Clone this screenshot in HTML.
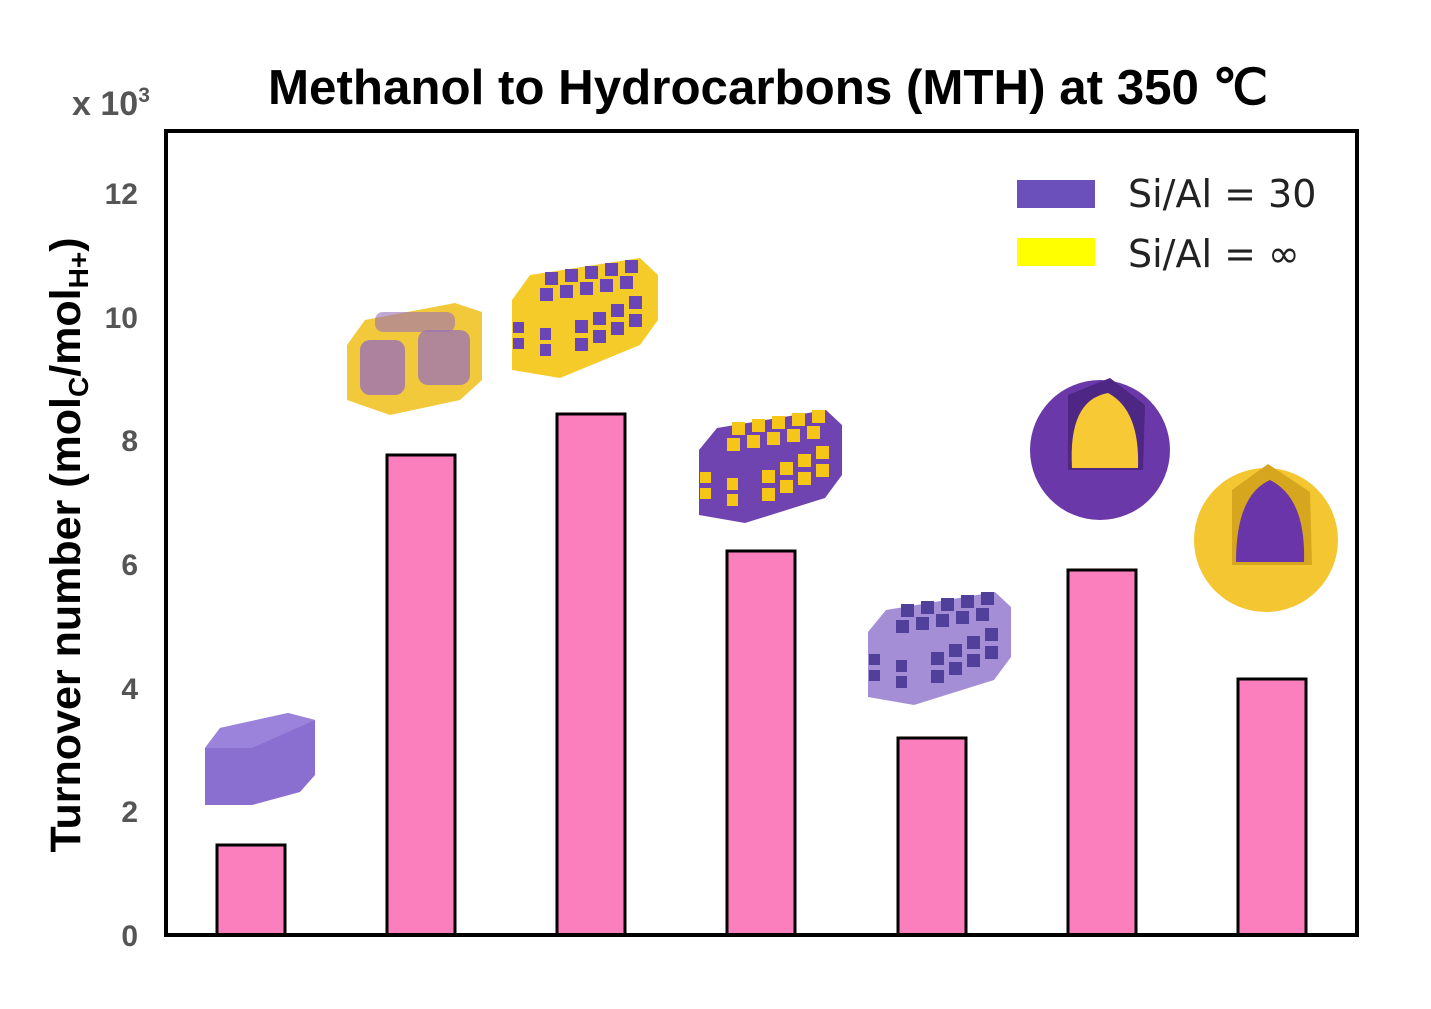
<!DOCTYPE html>
<html><head><meta charset="utf-8"><style>
body{margin:0;background:#fff;width:1431px;height:1004px;overflow:hidden;position:relative;font-family:"Liberation Sans",sans-serif}
</style></head><body>
<svg width="1431" height="1004" viewBox="0 0 1431 1004" xmlns="http://www.w3.org/2000/svg" font-family="Liberation Sans, sans-serif">
<defs>
<g id="cubes">
<rect x="0" y="0" width="13" height="13"/><rect x="20" y="-3" width="13" height="13"/><rect x="40" y="-6" width="13" height="13"/><rect x="60" y="-9" width="13" height="13"/><rect x="80" y="-12" width="13" height="13"/>
<rect x="-5" y="16" width="13" height="13"/><rect x="15" y="13" width="13" height="13"/><rect x="35" y="10" width="13" height="13"/><rect x="55" y="7" width="13" height="13"/><rect x="75" y="4" width="13" height="13"/>
<rect x="-32" y="50" width="11" height="11"/><rect x="-32" y="66" width="11" height="11"/><rect x="-5" y="56" width="11" height="12"/><rect x="-5" y="72" width="11" height="12"/>
<rect x="30" y="48" width="13" height="13"/><rect x="48" y="40" width="13" height="13"/><rect x="66" y="32" width="13" height="13"/><rect x="84" y="24" width="13" height="13"/>
<rect x="30" y="66" width="13" height="13"/><rect x="48" y="58" width="13" height="13"/><rect x="66" y="50" width="13" height="13"/><rect x="84" y="42" width="13" height="13"/>
</g>
</defs>
<text x="768" y="104" text-anchor="middle" font-size="49" font-weight="bold" textLength="1000" lengthAdjust="spacingAndGlyphs">Methanol to Hydrocarbons (MTH) at 350 ℃</text>
<text x="72" y="115" font-size="34" font-weight="bold" fill="#555">x 10<tspan font-size="21" dy="-13">3</tspan></text>
<g font-size="30" font-weight="bold" fill="#555" text-anchor="end">
<text x="138" y="946">0</text><text x="138" y="822">2</text><text x="138" y="699">4</text><text x="138" y="575">6</text><text x="138" y="451">8</text><text x="138" y="328">10</text><text x="138" y="204">12</text>
</g>
<text transform="translate(80,545) rotate(-90)" text-anchor="middle" font-size="43" font-weight="bold">Turnover number (mol<tspan font-size="28" dy="8">C</tspan><tspan dy="-8">/mol</tspan><tspan font-size="28" dy="8">H+</tspan><tspan dy="-8">)</tspan></text>
<g fill="#fb7fbc" stroke="#000" stroke-width="3">
<rect x="217" y="845" width="68" height="90"/>
<rect x="387" y="455" width="68" height="480"/>
<rect x="557" y="414" width="68" height="521"/>
<rect x="727" y="551" width="68" height="384"/>
<rect x="898" y="738" width="68" height="197"/>
<rect x="1068" y="570" width="68" height="365"/>
<rect x="1238" y="679" width="68" height="256"/>
</g>
<rect x="166" y="131" width="1191" height="804" fill="none" stroke="#000" stroke-width="4"/>
<rect x="1017" y="180" width="78" height="28" fill="#6b4fbb"/>
<rect x="1017" y="238" width="78" height="28" fill="#ffff00"/>
<text x="1128" y="207" font-size="38" font-family="DejaVu Sans, sans-serif" fill="#222">Si/Al = 30</text>
<text x="1128" y="267" font-size="38" font-family="DejaVu Sans, sans-serif" fill="#222">Si/Al = ∞</text>
<polygon points="205,748 220,728 288,713 315,720 315,775 300,792 252,805 205,805" fill="#8a6fd0"/>
<polygon points="205,748 220,728 288,713 315,720 252,748" fill="#9b82da"/>
<polygon points="347,345 365,320 455,303 482,312 482,380 460,400 390,415 347,400" fill="#f2c93a"/>
<rect x="360" y="340" width="45" height="55" rx="10" fill="#9a70b8" opacity="0.8"/>
<rect x="418" y="330" width="52" height="55" rx="10" fill="#9a70b8" opacity="0.75"/>
<rect x="375" y="312" width="80" height="20" rx="8" fill="#9a70b8" opacity="0.6"/>
<polygon points="512,300 530,275 640,258 658,275 658,320 640,345 560,378 512,370" fill="#f5cb2a"/>
<g fill="#6a45b5" transform="translate(545,272)"><use href="#cubes"/></g>
<polygon points="699,450 717,428 826,410 842,425 842,475 825,498 745,523 699,515" fill="#7044b0"/>
<g fill="#f5c518" transform="translate(732,422)"><use href="#cubes"/></g>
<polygon points="868,632 886,610 995,592 1011,607 1011,657 994,680 914,705 868,697" fill="#a48fd6"/>
<g fill="#50409a" transform="translate(901,604)"><use href="#cubes"/></g>
<circle cx="1100" cy="450" r="70" fill="#6a38a8"/>
<path d="M1068,395 L1110,378 L1145,405 L1143,470 L1068,470 Z" fill="#4e2683"/>
<path d="M1072,468 Q1068,400 1108,393 Q1140,410 1138,468 Z" fill="#f7c934"/>
<circle cx="1266" cy="540" r="72" fill="#f3c632"/>
<path d="M1232,490 L1268,464 L1310,492 L1312,565 L1232,565 Z" fill="#d7a61f"/>
<path d="M1236,562 Q1236,495 1270,480 Q1306,498 1304,562 Z" fill="#6a35a8"/>
</svg>
</body></html>
